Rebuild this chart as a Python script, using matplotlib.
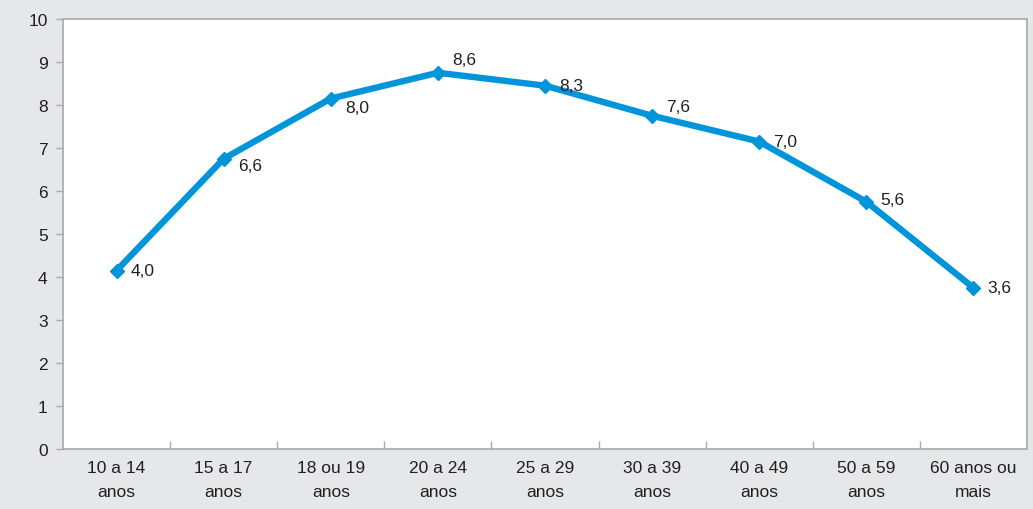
import matplotlib
matplotlib.use("Agg")
import matplotlib.pyplot as plt

# categories and values (points sit slightly above their printed labels)
categories = ["10 a 14\nanos", "15 a 17\nanos", "18 ou 19\nanos", "20 a 24\nanos", "25 a 29\nanos",
              "30 a 39\nanos", "40 a 49\nanos", "50 a 59\nanos", "60 anos ou\nmais"]
values = [4.15, 6.75, 8.15, 8.75, 8.45, 7.75, 7.15, 5.75, 3.75]
labels = ["4,0", "6,6", "8,0", "8,6", "8,3", "7,6", "7,0", "5,6", "3,6"]
label_dy = [0, -7, -9, 13, 0, 9, 0, 2, 0]  # pixels, up is positive

BG, BLUE, SPINE, TXT = "#e6e7e8", "#0095da", "#a7a9ac", "#231f20"
plt.rcParams["font.family"] = ["Liberation Sans", "DejaVu Sans"]
FS = 12.5

fig = plt.figure(figsize=(10.33, 5.10), dpi=100, facecolor=BG)
ax = fig.add_axes([63 / 1033, 60 / 510, 964 / 1033, 430 / 510])
ax.set_facecolor("white")

x = list(range(len(categories)))
ax.plot(x, values, color=BLUE, lw=4.6, marker="D", ms=7.5, mec=BLUE, mfc=BLUE, solid_joinstyle="miter")
for xi, v, t, dy in zip(x, values, labels, label_dy):
    ax.annotate(t, (xi, v), xytext=(14, dy), textcoords="offset pixels",
                ha="left", va="center", fontsize=FS, color=TXT)

ax.set_xlim(-0.5, len(categories) - 0.5)
ax.set_ylim(0, 10)
ax.set_yticks(range(0, 11))
ax.set_xticks(x)
ax.set_xticklabels(categories, fontsize=FS, color=TXT, linespacing=1.7)
ax.tick_params(axis="x", length=0, pad=8)
ax.set_xticks([i + 0.5 for i in x[:-1]], minor=True)
ax.tick_params(axis="x", which="minor", direction="in", length=6, color=SPINE, width=1)
ax.tick_params(axis="y", direction="out", length=5, color=SPINE, width=1, labelsize=FS,
               labelcolor=TXT, pad=6)
for s in ax.spines.values():
    s.set_color(SPINE)
    s.set_linewidth(1.2)

fig.savefig("out.png", dpi=100, facecolor=BG)
